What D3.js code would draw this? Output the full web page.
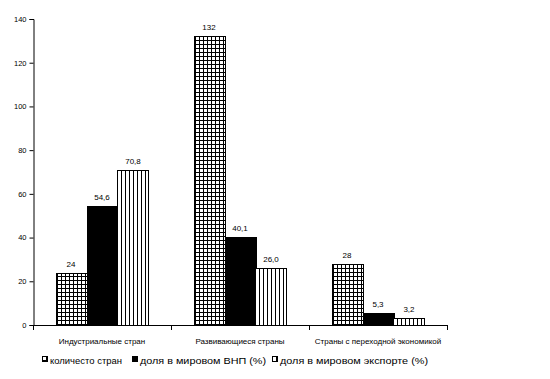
<!DOCTYPE html>
<html>
<head>
<meta charset="utf-8">
<script src="https://cdn.jsdelivr.net/npm/d3@7"></script>
<style>
  body { margin: 0; background: #fff; }
  svg { display: block; font-family: "Liberation Sans", Arial, sans-serif; }
</style>
</head>
<body>
<svg width="550" height="379"></svg>
<script>
"use strict";

let categories = ["Индустриальные стран", "Развивающиеся страны", "Страны с переходной экономикой"];
let seriesNames = ["количесто стран", "доля в мировом ВНП (%)", "доля в мировом экспорте (%)"];
let countValues = [24, 132, 28];
let gnpValues = [54.6, 40.1, 5.3];
let exportValues = [70.8, 26.0, 3.2];
let valueLabels = [["24", "132", "28"], ["54,6", "40,1", "5,3"], ["70,8", "26,0", "3,2"]];
let yTicks = [0, 20, 40, 60, 80, 100, 120, 140];

let series = [countValues, gnpValues, exportValues];
let fills = ["url(#grid)", "#000", "url(#vlines)"];

let svg = d3.select("svg");

// patterns for the hatched bars
let defs = svg.append("defs");
let pg = defs.append("pattern").attr("id", "grid").attr("patternUnits", "userSpaceOnUse")
    .attr("width", 4).attr("height", 4);
pg.append("rect").attr("width", 4).attr("height", 4).attr("fill", "#fff");
pg.append("rect").attr("x", 0).attr("y", 0).attr("width", 1).attr("height", 4).attr("fill", "#000");
pg.append("rect").attr("x", 0).attr("y", 0).attr("width", 4).attr("height", 1).attr("fill", "#000");

let pv = defs.append("pattern").attr("id", "vlines").attr("patternUnits", "userSpaceOnUse")
    .attr("width", 4).attr("height", 4);
pv.append("rect").attr("width", 4).attr("height", 4).attr("fill", "#fff");
pv.append("rect").attr("x", 0).attr("y", 0).attr("width", 1).attr("height", 4).attr("fill", "#000");

let x0 = d3.scaleBand().domain(categories).range([33, 447]).padding(0);
let x1 = d3.scaleBand().domain(d3.range(series.length)).range([0, x0.bandwidth()])
    .paddingInner(0).paddingOuter(0.726);
let y = d3.scaleLinear().domain([0, 140]).range([325, 19]);

// y axis
let yAxis = svg.append("g").attr("transform", "translate(33.5,0)")
    .call(d3.axisLeft(y).tickValues(yTicks).tickSize(4).tickPadding(3));
yAxis.select(".domain").attr("stroke", "#000");
yAxis.selectAll("text").attr("font-size", 7.5).attr("fill", "#000")
    .attr("font-family", "'Liberation Sans', Arial, sans-serif");

// bars
let groups = svg.append("g").selectAll("g").data(categories).enter().append("g")
    .attr("transform", function (d) { return "translate(" + x0(d) + ",0)"; });

groups.selectAll("rect").data(function (d, i) {
    return series.map(function (s, j) { return { j: j, value: s[i], label: valueLabels[j][i] }; });
}).enter().append("rect")
    .attr("x", function (d) { return Math.round(x1(d.j)) + 0.5; })
    .attr("y", function (d) { return Math.round(y(d.value)) + 0.5; })
    .attr("width", Math.round(x1.bandwidth()))
    .attr("height", function (d) { return Math.round(y(0)) - Math.round(y(d.value)); })
    .attr("fill", function (d) { return fills[d.j]; })
    .attr("stroke", "#000").attr("stroke-width", 1);

groups.selectAll("text").data(function (d, i) {
    return series.map(function (s, j) { return { j: j, value: s[i], label: valueLabels[j][i] }; });
}).enter().append("text")
    .attr("x", function (d) { return x1(d.j) + x1.bandwidth() / 2; })
    .attr("y", function (d) { return y(d.value) - 6; })
    .attr("text-anchor", "middle").attr("font-size", 8).attr("fill", "#000")
    .text(function (d) { return d.label; });

// x axis with ticks at category boundaries
let xg = svg.append("g");
xg.append("line").attr("x1", 33).attr("x2", 447).attr("y1", 325.5).attr("y2", 325.5).attr("stroke", "#000");
let bounds = categories.map(function (c) { return x0(c); }).concat([x0.range()[1]]);
xg.selectAll(".tk").data(bounds).enter().append("line")
    .attr("x1", function (d) { return Math.round(d) + 0.5; })
    .attr("x2", function (d) { return Math.round(d) + 0.5; })
    .attr("y1", 325).attr("y2", 330).attr("stroke", "#000");
xg.selectAll(".cl").data(categories).enter().append("text")
    .attr("x", function (d) { return x0(d) + x0.bandwidth() / 2; })
    .attr("y", 344).attr("text-anchor", "middle").attr("font-size", 8).attr("fill", "#000")
    .text(function (d) { return d; });

// legend
let legendX = [42, 132, 272];
let legendW = [72, 126, 148];
let lg = svg.append("g").selectAll("g").data(seriesNames).enter().append("g")
    .attr("transform", function (d, i) { return "translate(" + legendX[i] + ",356)"; });
lg.append("rect").attr("x", 0.5).attr("y", 0.5).attr("width", 5).attr("height", 5)
    .attr("fill", function (d, i) { return i === 1 ? "#000" : (i === 0 ? "url(#grid)" : "url(#vlines)"); })
    .attr("stroke", "#000");
lg.append("text").attr("x", 8).attr("y", 7.5).attr("font-size", 9.5).attr("fill", "#000")
    .attr("textLength", function (d, i) { return legendW[i]; })
    .attr("lengthAdjust", "spacingAndGlyphs")
    .text(function (d) { return d; });
</script>
</body>
</html>
